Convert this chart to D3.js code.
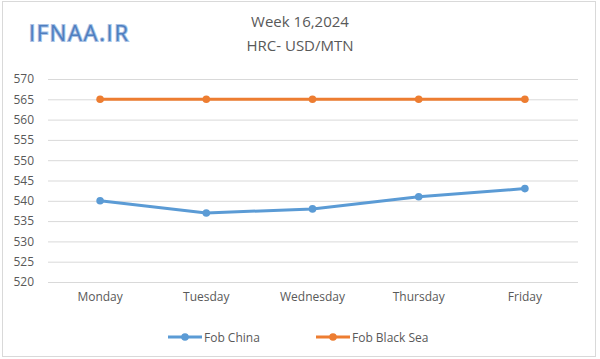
<!DOCTYPE html>
<html>
<head>
<meta charset="utf-8">
<script src="https://cdn.jsdelivr.net/npm/d3@7"></script>
<style>
  body { margin: 0; background: #fff; }
  svg text { font-family: "Open Sans", "Liberation Sans", sans-serif; }
</style>
</head>
<body>
<svg class="svgWrapper" width="600" height="359"></svg>
<script>
const days = ['Monday', 'Tuesday', 'Wednesday', 'Thursday', 'Friday'];
const fobChina = [540, 537, 538, 541, 543];
const fobBlackSea = [565, 565, 565, 565, 565];
const yTicks = [520, 525, 530, 535, 540, 545, 550, 555, 560, 565, 570];
const seriesNames = ['Fob China', 'Fob Black Sea'];
const seriesColors = ['#5b9bd5', '#ed7d31'];

const svgObj = d3.select('.svgWrapper');

// outer frame
svgObj.append('rect')
  .attr('x', 2.5).attr('y', 1.5).attr('width', 593).attr('height', 355)
  .attr('fill', '#fff').attr('stroke', '#d9d9d9');

const xScale = d3.scaleBand().domain(days).range([47, 578]);
const yScale = d3.scaleLinear().domain([520, 570]).range([282, 79]);

// gridlines
svgObj.append('g')
  .selectAll('line').data(yTicks).join('line')
  .attr('x1', 48).attr('x2', 578)
  .attr('y1', d => yScale(d) + 0.5).attr('y2', d => yScale(d) + 0.5)
  .attr('stroke', '#d9d9d9').attr('stroke-width', 1);

// y axis labels
const yAxis = d3.axisLeft(yScale).tickValues(yTicks).tickSize(0).tickPadding(0);
svgObj.append('g')
  .attr('transform', 'translate(34,0)')
  .call(yAxis)
  .call(g => g.select('.domain').remove())
  .call(g => g.selectAll('text')
    .attr('font-size', 12).attr('fill', '#595959')
    .attr('font-family', '"Open Sans", sans-serif'));

// x axis labels
const xAxis = d3.axisBottom(xScale).tickSize(0).tickPadding(0);
svgObj.append('g')
  .attr('transform', 'translate(0,292)')
  .call(xAxis)
  .call(g => g.select('.domain').remove())
  .call(g => g.selectAll('text')
    .attr('font-size', 12).attr('fill', '#595959')
    .attr('font-family', '"Open Sans", sans-serif'));

const cx = d => xScale(d) + xScale.bandwidth() / 2;
const lineGen = d3.line().x(d => cx(d.day)).y(d => yScale(d.v));

[fobChina, fobBlackSea].forEach((vals, i) => {
  const pts = days.map((day, j) => ({ day, v: vals[j] }));
  const g = svgObj.append('g');
  g.append('path').datum(pts)
    .attr('d', lineGen)
    .attr('fill', 'none')
    .attr('stroke', seriesColors[i])
    .attr('stroke-width', 3)
    .attr('stroke-linejoin', 'round');
  g.selectAll('circle').data(pts).join('circle')
    .attr('cx', d => cx(d.day)).attr('cy', d => yScale(d.v))
    .attr('r', 3.8).attr('fill', seriesColors[i]);
});

// title
svgObj.append('text')
  .attr('x', 300).attr('y', 27).attr('text-anchor', 'middle')
  .attr('font-size', 15).attr('fill', '#595959')
  .text('Week 16,2024');
svgObj.append('text')
  .attr('x', 300).attr('y', 51).attr('text-anchor', 'middle')
  .attr('font-size', 15).attr('fill', '#595959')
  .text('HRC- USD/MTN');

// watermark logo
svgObj.append('text')
  .attr('x', 29).attr('y', 41)
  .attr('font-size', 22)
  .attr('fill', '#4f7fc0').attr('stroke', '#aac3e6').attr('stroke-width', 2)
  .attr('paint-order', 'stroke')
  .attr('font-family', '"DejaVu Sans", sans-serif')
  .attr('textLength', 99)
  .text('IFNAA.IR');

// legend
const legendX = [168, 316];
const legendG = svgObj.append('g');
seriesNames.forEach((name, i) => {
  const lg = legendG.append('g').attr('transform', `translate(${legendX[i]},337)`);
  lg.append('line').attr('x1', 0).attr('x2', 34).attr('y1', 0).attr('y2', 0)
    .attr('stroke', seriesColors[i]).attr('stroke-width', 3);
  lg.append('circle').attr('cx', 17).attr('cy', 0).attr('r', 3.8).attr('fill', seriesColors[i]);
  lg.append('text').attr('x', 36).attr('y', 4.5)
    .attr('font-size', 12).attr('fill', '#595959')
    .text(name);
});
</script>
</body>
</html>
